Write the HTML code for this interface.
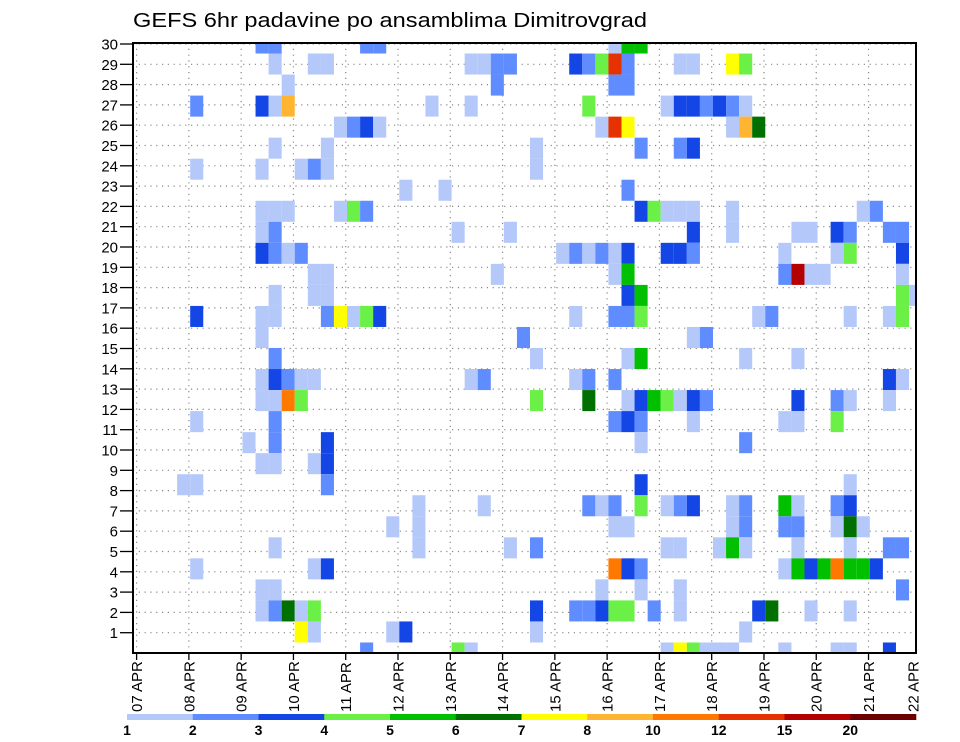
<!DOCTYPE html>
<html><head><meta charset="utf-8"><style>
html,body{margin:0;padding:0;background:#fff;}
svg{display:block;font-family:"Liberation Sans",sans-serif;}
</style></head><body>
<svg id="chart" width="960" height="742" viewBox="0 0 960 742" xmlns="http://www.w3.org/2000/svg">
<text x="133" y="27" font-size="20" textLength="514" lengthAdjust="spacingAndGlyphs" fill="#000">GEFS 6hr padavine po ansamblima Dimitrovgrad</text>
<g id="grid"></g>
<g id="cells"></g>
<rect x="133" y="43" width="783" height="610" fill="none" stroke="#000" stroke-width="2"/>
<g id="yaxis"></g>
<g id="xaxis"></g>
<g id="colorbar"></g>
</svg>
<script>
// ---- data ----
const rowMembers = [30,29,28,27,26,25,24,23,22,21,20,19,18,17,16,15,14,13,12,11,10,9,8,7,6,5,4,3,2,1];
const rowSteps = [
 [10,11,18,19,37,38,39],
 [11,14,15,26,27,28,29,34,35,36,37,38,42,43,46,47],
 [12,28,37,38],
 [5,10,11,12,23,26,35,41,42,43,44,45,46,47],
 [16,17,18,19,36,37,38,46,47,48],
 [11,15,31,39,42,43],
 [5,10,13,14,15,31],
 [21,24,38],
 [10,11,12,16,17,18,39,40,41,42,43,46,56,57],
 [10,11,25,29,43,46,51,52,54,55,58,59],
 [10,11,12,13,33,34,35,36,37,38,41,42,43,50,54,55,59],
 [14,15,28,37,38,50,51,52,53,59],
 [11,14,15,38,39,59,60],
 [5,10,11,15,16,17,18,19,34,37,38,39,48,49,55,58,59],
 [10,30,43,44],
 [11,31,38,39,47,51],
 [10,11,12,13,14,26,27,34,35,37,58,59],
 [10,11,12,13,31,35,38,39,40,41,42,43,44,51,54,55,58],
 [5,11,37,38,39,43,50,51,54],
 [9,11,15,39,47],
 [10,11,14,15],
 [4,5,15,39,55],
 [22,27,35,36,37,39,41,42,43,46,47,50,51,54,55],
 [20,22,37,38,46,47,50,51,54,55,56],
 [11,22,29,31,41,42,45,46,47,51,55,58,59],
 [5,14,15,37,38,39,50,51,52,53,54,55,56,57],
 [10,11,36,39,42,59],
 [10,11,12,13,14,31,34,35,36,37,38,40,42,48,49,52,55],
 [13,14,20,21,31,47],
 [18,25,26,41,42,43,44,45,46,50,54,55,58]
];
const rowLevels = [
 [1,1,1,1,0,4,4],
 [0,0,0,0,0,1,1,2,1,3,9,1,0,0,6,3],
 [0,1,1,1],
 [1,2,0,7,0,0,3,0,2,2,1,2,1,0],
 [0,1,2,0,0,9,6,0,7,5],
 [0,0,0,1,1,2],
 [0,0,0,1,0,0],
 [0,0,1],
 [0,0,0,0,3,1,2,3,0,0,0,0,0,1],
 [0,1,0,0,2,0,0,0,2,1,1,1],
 [2,1,0,1,0,1,0,1,0,2,2,2,1,0,0,3,2],
 [0,0,0,0,4,1,10,0,0,0],
 [0,0,0,2,4,3,0],
 [2,0,0,1,6,0,3,2,0,1,1,3,0,1,0,0,3],
 [0,1,0,1],
 [1,0,0,4,0,0],
 [0,2,1,0,0,0,1,0,1,1,2,0],
 [0,0,8,3,3,5,0,2,4,3,0,2,1,2,1,0,0],
 [0,1,1,2,1,0,0,0,3],
 [0,1,2,0,1],
 [0,0,0,2],
 [0,0,1,2,0],
 [0,0,1,0,1,3,0,1,2,0,1,4,0,1,2],
 [0,0,0,0,0,1,1,1,0,5,0],
 [0,0,0,1,0,0,0,4,0,0,0,1,1],
 [0,0,2,8,2,1,0,4,2,4,8,4,4,2],
 [0,0,0,0,0,1],
 [0,1,5,0,3,2,1,1,2,3,3,1,0,2,5,0,0],
 [6,0,0,2,0,0],
 [1,3,0,0,6,3,0,0,0,0,0,0,2]
];
const levelColors = ["#b4c8fa","#5f8cff","#1446e6","#6af046","#00c000","#007000","#ffff00","#ffb432","#ff7800","#e63200","#b40000","#6e0000"];
const levelLabels = ["1","2","3","4","5","6","7","8","10","12","15","20"];
const dayLabels = ["07 APR","08 APR","09 APR","10 APR","11 APR","12 APR","13 APR","14 APR","15 APR","16 APR","17 APR","18 APR","19 APR","20 APR","21 APR","22 APR"];
const yTickValues = [1,2,3,4,5,6,7,8,9,10,11,12,13,14,15,16,17,18,19,20,21,22,23,24,25,26,27,28,29,30];

// ---- scales ----
const NS="http://www.w3.org/2000/svg";
const L=133,R=916,T=43,B=653;
const xTime = s => 136.6 + s*13.07;          // s in 6h steps from 07 APR 00Z
const cellH = (B-T)/29;
const yCell = m => B - (m-1)*cellH;          // member band centre
const yTick = v => B - v*20.3;               // label positions
function mk(tag, attrs, parent){const e=document.createElementNS(NS,tag);for(const k in attrs)e.setAttribute(k,attrs[k]);parent.appendChild(e);return e;}

// grid
const grid=document.getElementById('grid');
yTickValues.forEach(v=>{
  const ln=mk('line',{x1:L,x2:R,y1:yTick(v),y2:yTick(v),stroke:'#888','stroke-width':1.2,'stroke-dasharray':'1.2 4.6'},grid);
  
  
});
dayLabels.forEach((d,k)=>{
  const x=xTime(k*4); if(x>R) return;
  const ln=mk('line',{x1:x,x2:x,y1:T,y2:B,stroke:'#888','stroke-width':1.2,'stroke-dasharray':'1.2 4.6'},grid);
  
  
});

// cells
const cells=document.getElementById('cells');
rowMembers.forEach((m,r)=>{
  rowSteps[r].forEach((s,j)=>{
    let x0=xTime(s-0.9), x1=x0+13.07;
    let y0=yCell(m)-cellH/2, y1=y0+cellH;
    x0=Math.max(x0,L); x1=Math.min(x1,R); y0=Math.max(y0,T); y1=Math.min(y1,B);
    if(x1<=x0||y1<=y0) return;
    const rc=mk('rect',{x:x0,y:y0,width:x1-x0,height:y1-y0,fill:levelColors[rowLevels[r][j]]},cells);
    
    
  });
});

// y axis
const ya=document.getElementById('yaxis');
yTickValues.forEach(v=>{
  const y=yTick(v);
  const tk=mk('line',{x1:120,x2:L,y1:y,y2:y,stroke:'#000','stroke-width':1.3},ya);
  
  
  const t=mk('text',{x:118,y:y+5.5,'text-anchor':'end','font-size':15,fill:'#000'},ya);
  t.textContent=String(v);
  
  
});

// x axis
const xa=document.getElementById('xaxis');
dayLabels.forEach((d,k)=>{
  let x=xTime(k*4);
  if(x<=R){
    const tk=mk('line',{x1:x,x2:x,y1:B,y2:660,stroke:'#000','stroke-width':1.3},xa);
    
    
  }
  x=Math.min(x,913);
  const t=mk('text',{x:0,y:0,transform:`translate(${x+5.5},712) rotate(-90)`,'font-size':15,fill:'#000'},xa);
  t.textContent=d;
  
  
});

// colorbar
const cb=document.getElementById('colorbar');
const cbL=127, cbR=916, segW=(cbR-cbL)/levelColors.length;
levelColors.forEach((c,k)=>{
  const r=mk('rect',{x:cbL+k*segW,y:714,width:segW+0.3,height:6,fill:c},cb);
  
  
});
levelLabels.forEach((l,k)=>{
  const t=mk('text',{x:cbL+k*segW,y:735,'text-anchor':'middle','font-size':14,'font-weight':'bold',fill:'#000'},cb);
  t.textContent=l;
  
  
});
</script>
</body></html>
